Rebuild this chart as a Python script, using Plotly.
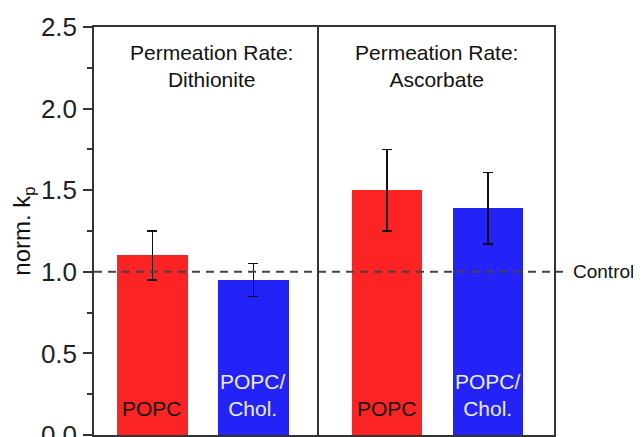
import plotly.graph_objects as go
from plotly.subplots import make_subplots

# ---- data ----
categories = ["POPC", "POPC/Chol."]
bar_labels = ["POPC", "POPC/<br>Chol."]
dithionite_values = [1.10, 0.95]
dithionite_errors = [0.15, 0.10]
ascorbate_values = [1.50, 1.39]
ascorbate_errors = [0.25, 0.22]
panel_titles = ["Permeation Rate:<br>Dithionite", "Permeation Rate:<br>Ascorbate"]
control_value = 1.0
control_label = "Control"
bar_colors = ["#fb2323", "#2323f8"]
label_colors = ["#111111", "#eeeef8"]

FONT = "Liberation Sans, Arial, sans-serif"
frame = "#333333"

fig = make_subplots(rows=1, cols=2, shared_yaxes=True, horizontal_spacing=0,
                    column_widths=[225, 235])

for col, (vals, errs) in enumerate([(dithionite_values, dithionite_errors),
                                     (ascorbate_values, ascorbate_errors)], start=1):
    fig.add_trace(go.Bar(
        x=categories, y=vals, width=0.70,
        marker=dict(color=bar_colors, line=dict(width=0)),
        error_y=dict(type="data", array=errs, color="#111111", thickness=1.5, width=5),
        showlegend=False, hoverinfo="skip"), row=1, col=col)
    for cat, lab, lc in zip(categories, bar_labels, label_colors):
        fig.add_annotation(x=cat, y=0, xref=f"x{'' if col == 1 else col}",
                           yref="y", yanchor="bottom", yshift=13,
                           text=lab, showarrow=False,
                           font=dict(family=FONT, size=21, color=lc))
    fig.add_annotation(x=0.52 if col == 1 else 0.5, y=1,
                       xref=f"x{'' if col == 1 else col} domain", yref="y domain",
                       yanchor="top", yshift=-12, text=panel_titles[col - 1],
                       showarrow=False, font=dict(family=FONT, size=21, color="#111111"))

fig.update_xaxes(showticklabels=False, ticks="", showline=True, linecolor=frame,
                 linewidth=1.5, mirror=True, showgrid=False, zeroline=False,
                 automargin=False)
fig.update_xaxes(range=[-0.579, 1.649], row=1, col=1)
fig.update_xaxes(range=[-0.673, 1.654], row=1, col=2)
fig.update_yaxes(range=[0, 2.5], showline=True, linecolor=frame, linewidth=1.5,
                 showgrid=False, zeroline=False, automargin=False)
fig.update_yaxes(row=1, col=1, mirror=False, ticks="outside", ticklen=9, tickwidth=1.5,
                 tickcolor=frame, dtick=0.5, tickformat=".1f",
                 tickfont=dict(family=FONT, size=26, color="#222222"),
                 ticklabelstandoff=1, ticklabeloverflow="allow",
                 minor=dict(ticks="outside", ticklen=5, tickwidth=1.5,
                            tickcolor=frame, dtick=0.25),
                 title=dict(text="norm. k<sub>p</sub>", standoff=8,
                            font=dict(family=FONT, size=24, color="#111111")))
fig.update_yaxes(row=1, col=2, mirror=True, ticks="", showticklabels=False)

fig.add_shape(type="line", xref="paper", yref="y", x0=0, x1=1.0196,
              y0=control_value, y1=control_value,
              line=dict(color="#444444", width=2, dash="8px,6px"))
fig.add_annotation(xref="paper", yref="y", x=1.037, y=control_value,
                   xanchor="left", yanchor="middle", text=control_label,
                   showarrow=False, font=dict(family=FONT, size=19, color="#111111"))

# page body adds an 8px offset, so the figure is 8px smaller than the window
fig.update_layout(width=633, height=429, margin=dict(l=86, r=87, t=19, b=2,
                                                     autoexpand=False),
                  plot_bgcolor="white", paper_bgcolor="white", bargap=0)

fig.write_html("out.html")
